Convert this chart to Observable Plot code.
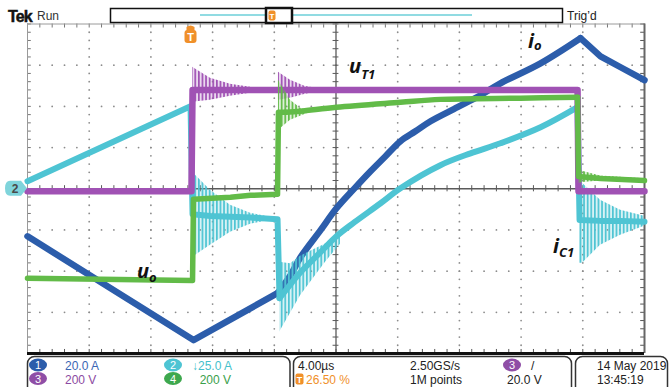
<!DOCTYPE html>
<html><head><meta charset="utf-8">
<script src="https://cdn.jsdelivr.net/npm/d3@7"></script>
<script src="https://cdn.jsdelivr.net/npm/@observablehq/plot@0.6"></script>
<style>
html,body{margin:0;padding:0;background:#fff;}
#wrap{position:relative;width:669px;height:387px;overflow:hidden;background:#fff;}
#wrap svg{position:absolute;left:0;top:0;}
</style></head>
<body><div id="wrap"></div>
<script>
// ---- time base: 4 µs/div, trigger (t=0) at 26.5 % of record ----
const tStart = -10.6, tEnd = 29.4, usPerDiv = 4;
const perDiv = {io: 20, ic1: 25, uT1: 200, uo: 200};

// ---- ch1: i_o (A) ----
const ioT = [-10.6, 0.16, 5.61, 6.45, 7.10, 8.40, 9.43, 10.60, 11.64, 12.61, 13.58, 14.55, 15.53, 17.28, 18.77, 20.06, 22.66, 25.25, 26.55, 27.85, 29.4];
const ioA = [-23.1, -73.5, -50.7, -42.0, -33.3, -20.1, -9.5, 0.2, 8.5, 15.8, 23.1, 27.9, 32.8, 39.6, 45.4, 51.2, 60.9, 73.1, 64.3, 59.0, 52.7];
const ioSmooth = [5.61, 25.25];

// ---- ch2: i_C1 (A) ----
const ic1T = [-10.6, -0.03, 0.10, 1.26, 2.56, 3.86, 5.61, 5.74, 6.45, 7.10, 8.40, 9.43, 10.60, 12.29, 13.58, 16.17, 18.12, 20.06, 22.66, 25.06, 25.19, 26.55, 27.85, 29.4];
const ic1A = [4.6, 50.1, -15.5, -16.5, -17.0, -17.5, -18.5, -66.4, -58.0, -50.7, -38.5, -28.8, -20.3, -8.8, 0.3, 14.3, 21.5, 27.6, 37.3, 49.5, -19.0, -19.5, -19.5, -20.0];
const ic1Smooth = [5.74, 25.06];
const ic1RingT   = [0.10, 1.26, 2.56, 3.86, 4.83, 5.74, 6.45, 7.10, 7.75, 8.72, 9.69, 25.19, 25.38, 26.55, 27.85, 29.4];
const ic1RingHi  = [10.0, -0.9, -10.0, -14.9, -16.7, -44.6, -45.5, -41.0, -38.0, -33.5, -26.4, 3.3, 3.3, -7.0, -13.0, -16.7];
const ic1RingLo  = [-41.6, -34.3, -26.4, -21.5, -19.7, -87.1, -75.5, -65.0, -56.7, -44.6, -33.7, -45.2, -45.2, -34.3, -28.2, -22.8];
const ic1RingSeg = [1, 1, 1, 1, 1, 2, 2, 2, 2, 2, 2, 3, 3, 3, 3, 3];

// ---- ch3: u_T1 (V) ----
const uT1T = [-10.6, 0.03, 0.10, 25.06, 25.12, 29.4];
const uT1V = [-12, -12, 480, 480, -12, -12];
const uT1Smooth = null;
const uT1RingT   = [0.10, 1.26, 2.56, 3.86, 5.67, 6.45, 7.42, 8.40];
const uT1RingHi  = [590, 536, 507, 493, 566, 527, 497, 485];
const uT1RingLo  = [420, 430, 449, 464, 430, 439, 459, 472];
const uT1RingSeg = [1, 1, 1, 1, 2, 2, 2, 2];

// ---- ch4: u_o (V) ----
const uoT = [-10.6, 0.10, 0.16, 2.56, 3.86, 5.61, 5.67, 6.13, 7.10, 9.43, 13.58, 16.17, 21.36, 25.06, 25.12, 26.55, 29.4];
const uoV = [-435, -445, -51, -41, -32, -27, 371, 371, 376, 396, 420, 434, 440, 444, 60, 50, 40];
const uoSmooth = [6.13, 25.06];
const uoRingT   = [5.67, 6.45, 7.10, 7.75, 25.12, 25.38, 26.55, 29.4];
const uoRingHi  = [527, 430, 391, 380, 95, 85, 62, 48];
const uoRingLo  = [284, 333, 352, 372, 25, 30, 38, 32];
const uoRingSeg = [1, 1, 1, 1, 2, 2, 2, 2];

// ---- trace labels ----
const labelMain = ["i", "u", "u", "i"];
const labelSub  = ["o", "T1", "o", "C1"];

// ---- status texts ----
const chScale = ["20.0 A", "\u219325.0 A", "200 V", "200 V"];
const horiz = ["4.00\u00b5s", "26.50 %", "2.50GS/s", "1M points", "20.0 V"];
const dateTxt = ["14 May 2019", "13:45:19"];

const col = {io: "#2c5dab", ic1: "#4ec4d3", uT1: "#a052b4", uo: "#62bb48"};

// stripe patterns to render high-frequency ringing as dense vertical strokes
const wrap = document.getElementById("wrap");
const defsSvg = d3.select(wrap).append("svg").attr("width", 0).attr("height", 0);
const defs = defsSvg.append("defs");
Object.entries(col).forEach(([k, c]) => {
  const p = defs.append("pattern").attr("id", "ring-" + k).attr("patternUnits", "userSpaceOnUse").attr("width", 3.6).attr("height", 20);
  p.append("rect").attr("width", 3.6).attr("height", 20).attr("fill", c).attr("fill-opacity", 0.22);
  p.append("rect").attr("width", 1.7).attr("height", 20).attr("fill", c);
});

const toDiv = (ts, vs, s) => ts.map((t, i) => ({t, y: vs[i] / s}));
const toBand = (ts, hi, lo, seg, s) => ts.map((t, i) => ({t, hi: hi[i] / s, lo: lo[i] / s, seg: seg[i]}));

// graticule helpers (divisions)
const center = tStart + 5 * usPerDiv;
const minorX = d3.range(0, 51).map(k => tStart + k * usPerDiv / 5);
const minorY = d3.range(-20, 21).map(k => k * 0.2);
const gridDots = [];
for (let k = 1; k <= 9; k++) { if (k === 5) continue; for (let j = -19; j <= 19; j++) gridDots.push({t: tStart + k * usPerDiv, y: j * 0.2}); }
for (const v of [-3, -2, -1, 1, 2, 3]) for (let m = 1; m < 50; m++) gridDots.push({t: tStart + m * usPerDiv / 5, y: v});
const tx = 0.19, ty = 0.075;

const trace = (key, ts, vs, s, smooth, ringT, hi, lo, seg, w) => {
  const m = [];
  if (ringT) m.push(Plot.areaY(toBand(ringT, hi, lo, seg, s), {x: "t", y1: "lo", y2: "hi", z: "seg", fill: `url(#ring-${key})`}));
  const pts = toDiv(ts, vs, s);
  const opt = {x: "t", y: "y", stroke: col[key], strokeWidth: w, strokeLinejoin: "round", strokeLinecap: "round"};
  if (!smooth) { m.push(Plot.line(pts, opt)); return m; }
  const [a, b] = smooth;
  m.push(Plot.line(pts.filter(d => d.t <= a), opt));
  m.push(Plot.line(pts.filter(d => d.t >= a && d.t <= b), {...opt, curve: "catmull-rom"}));
  m.push(Plot.line(pts.filter(d => d.t >= b), opt));
  return m;
};

const chart = Plot.plot({
  width: 669, height: 387,
  marginLeft: 27, marginRight: 25, marginTop: 23.5, marginBottom: 34,
  x: {domain: [tStart, tEnd], axis: null},
  y: {domain: [-4, 4], axis: null},
  style: {background: "transparent", overflow: "visible"},
  marks: [
    Plot.dot(gridDots, {x: "t", y: "y", r: 0.9, fill: "#8c8c8c", stroke: null}),
    Plot.ruleY([0], {stroke: "#5a5a5a", strokeWidth: 1.3}),
    Plot.ruleX([center], {stroke: "#5a5a5a", strokeWidth: 1.3}),
    Plot.ruleX(minorX, {x: d => d, y1: -ty, y2: ty, stroke: "#5a5a5a"}),
    Plot.ruleY(minorY, {y: d => d, x1: center - tx, x2: center + tx, stroke: "#5a5a5a"}),
    Plot.ruleX(minorX, {x: d => d, y1: 4, y2: 4 - ty * 1.3, stroke: "#777"}),
    Plot.ruleX(minorX, {x: d => d, y1: -4, y2: -4 + ty * 1.3, stroke: "#555"}),
    Plot.ruleY(minorY, {y: d => d, x1: tStart, x2: tStart + tx * 1.3, stroke: "#777"}),
    Plot.ruleY(minorY, {y: d => d, x1: tEnd, x2: tEnd - tx * 1.3, stroke: "#555"}),
    Plot.ruleY([4], {stroke: "#9a9a9a", strokeWidth: 1}),
    Plot.ruleX([tStart], {stroke: "#9a9a9a", strokeWidth: 1}),
    Plot.ruleX([tEnd], {stroke: "#666", strokeWidth: 2}),
    ...trace("io", ioT, ioA, perDiv.io, ioSmooth, null, null, null, null, 6.5),
    ...trace("ic1", ic1T, ic1A, perDiv.ic1, ic1Smooth, ic1RingT, ic1RingHi, ic1RingLo, ic1RingSeg, 6),
    ...trace("uT1", uT1T, uT1V, perDiv.uT1, uT1Smooth, uT1RingT, uT1RingHi, uT1RingLo, uT1RingSeg, 6.5),
    ...trace("uo", uoT, uoV, perDiv.uo, uoSmooth, uoRingT, uoRingHi, uoRingLo, uoRingSeg, 5.5),
    Plot.ruleY([-4], {stroke: "#111", strokeWidth: 3})
  ]
});
wrap.appendChild(chart);
const sx = chart.scale("x"), sy = chart.scale("y");

// ---- overlay decorations ----
const ov = d3.select(wrap).append("svg").attr("width", 669).attr("height", 387)
  .style("font-family", "'Liberation Sans', Arial, sans-serif");

// top bar
ov.append("text").attr("x", 8).attr("y", 21.5).attr("font-size", 16).attr("font-weight", 700).attr("letter-spacing", -0.9).attr("fill", "#111").attr("stroke", "#111").attr("stroke-width", 0.5).text("Tek");
ov.append("text").attr("x", 37).attr("y", 20).attr("font-size", 12).attr("fill", "#333").text("Run");
ov.append("rect").attr("x", 110.5).attr("y", 8.5).attr("width", 452).attr("height", 14).attr("fill", "none").attr("stroke", "#111").attr("stroke-width", 1.5);
ov.append("line").attr("x1", 200).attr("x2", 472).attr("y1", 15).attr("y2", 15).attr("stroke", "#6ccfd8").attr("stroke-width", 1.5);
ov.append("rect").attr("x", 266).attr("y", 8).attr("width", 26).attr("height", 15).attr("fill", "white").attr("stroke", "#111").attr("stroke-width", 2.5);
ov.append("rect").attr("x", 268.5).attr("y", 10.5).attr("width", 7).attr("height", 10).attr("rx", 2).attr("fill", "#f0902a");
ov.append("text").attr("x", 272).attr("y", 19).attr("font-size", 8).attr("font-weight", 700).attr("fill", "white").attr("text-anchor", "middle").text("T");
ov.append("text").attr("x", 567).attr("y", 20).attr("font-size", 12).attr("fill", "#222").text("Trig\u2019d");

// trigger marker on graticule
const trigX = sx.apply(0);
ov.append("path").attr("d", `M${trigX - 4},27 Q${trigX},24 ${trigX + 4},27 L${trigX + 4},31 L${trigX - 4},31 Z`).attr("fill", "#f0902a");
ov.append("rect").attr("x", trigX - 6).attr("y", 30).attr("width", 12).attr("height", 13).attr("rx", 3).attr("fill", "#f0902a");
ov.append("text").attr("x", trigX).attr("y", 41).attr("font-size", 11).attr("font-weight", 700).attr("fill", "white").attr("text-anchor", "middle").text("T");

// ch2 ground marker
const gy = sy.apply(0);
ov.append("path").attr("d", `M10,${gy - 7.5} L21,${gy - 7.5} L27,${gy} L21,${gy + 7.5} L10,${gy + 7.5} Q5,${gy + 7.5} 5,${gy} Q5,${gy - 7.5} 10,${gy - 7.5} Z`).attr("fill", "#7fd4db");
ov.append("text").attr("x", 15).attr("y", gy + 4.5).attr("font-size", 12).attr("font-weight", 700).attr("fill", "#4a4a4a").attr("text-anchor", "middle").text("2");

// trace labels (anchored in data coords: t in µs, level in divisions)
const labelPos = [[21.88, 3.41, 2], [10.28, 2.80, 6], [-3.47, -2.17, 4], [23.5, -1.57, 4]];
labelPos.forEach(([t, v, dy], i) => {
  const tt = ov.append("text").attr("x", sx.apply(t)).attr("y", sy.apply(v))
    .attr("font-size", 20).attr("font-weight", 700).attr("font-style", "italic").attr("fill", "#111")
    .style("font-family", "'Open Sans', 'Liberation Sans', sans-serif");
  tt.append("tspan").text(labelMain[i]);
  tt.append("tspan").attr("dy", dy).attr("font-size", 13).text(labelSub[i]);
});

// status bar boxes
const boxes = [[27.5, 262.5], [293.5, 278], [575.5, 92]];
boxes.forEach(([x, w]) => ov.append("rect").attr("x", x).attr("y", 356.5).attr("width", w).attr("height", 40).attr("rx", 7).attr("fill", "white").attr("stroke", "#333").attr("stroke-width", 1.5));
const badge = (cx, cy, fill, txt) => {
  ov.append("ellipse").attr("cx", cx).attr("cy", cy).attr("rx", 9).attr("ry", 6.5).attr("fill", fill);
  ov.append("text").attr("x", cx).attr("y", cy + 4).attr("font-size", 11).attr("fill", "white").attr("text-anchor", "middle").text(txt);
};
const r1 = 369.5, r2 = 383.5;
badge(38, 365, "#2c5dab", "1");
badge(173, 365, "#4ec4d3", "2");
badge(38, 378.5, "#8f4ea6", "3");
badge(173, 378.5, "#3ea84e", "4");
const st = (x, y, txt, fill, anchor) => ov.append("text").attr("x", x).attr("y", y).attr("font-size", 12).attr("fill", fill).attr("text-anchor", anchor || "start").text(txt);
st(65, r1, chScale[0], "#3a66b4");
st(232, r1, chScale[1], "#45bfcc", "end");
st(65, r2, chScale[2], "#8c4aa2");
st(231, r2, chScale[3], "#3aa04a", "end");
st(298, r1, horiz[0], "#222");
ov.append("rect").attr("x", 295.5).attr("y", 373.5).attr("width", 8).attr("height", 11).attr("rx", 2).attr("fill", "#f0902a");
ov.append("text").attr("x", 299.5).attr("y", 382.5).attr("font-size", 9).attr("font-weight", 700).attr("fill", "white").attr("text-anchor", "middle").text("T");
st(306, r2, horiz[1], "#f0902a");
st(410, r1, horiz[2], "#222");
st(410, r2, horiz[3], "#222");
badge(512, 365, "#8f4ea6", "3");
st(531, r1, "/", "#222");
st(507, r2, horiz[4], "#222");
st(597, r1, dateTxt[0], "#222");
st(597, r2, dateTxt[1], "#222");
</script></body></html>
